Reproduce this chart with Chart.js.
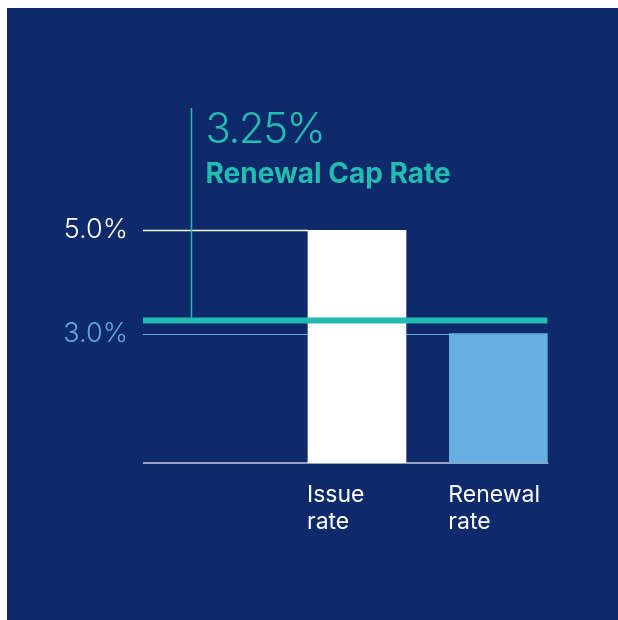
<!DOCTYPE html>
<html>
<head>
<meta charset="utf-8">
<script src="https://cdn.jsdelivr.net/npm/chart.js@4.4.0/dist/chart.umd.min.js"></script>
<style>
  html, body { margin: 0; padding: 0; background: #fff; overflow: hidden; }
  #wrap { position: absolute; left: 7px; top: 8px; width: 611px; height: 612px; background: #0e2a6b; }
  canvas { display: block; }
</style>
</head>
<body>
<div id="wrap"><canvas id="chart" width="611" height="612"></canvas></div>
<script>
// data
const categories = ['Issue rate', 'Renewal rate'];
const values = [5.0, 3.0];
const barColors = ['#ffffff', '#66b0e1'];
const yTicks = [3.0, 5.0];
const tickColors = ['#63a9dd', '#ffffff'];
const capRate = 3.25;
const capLabel = 'Renewal Cap Rate';

const teal = '#22bcb1';

// first slot is an empty spacer category
const labels = [''].concat(categories.map(c => c.split(' ')));
const data = [null].concat(values);
const colors = ['rgba(0,0,0,0)'].concat(barColors);

const decor = {
  id: 'decor',
  beforeDatasetsDraw(chart) {
    const ctx = chart.ctx, area = chart.chartArea;
    const y = chart.scales.y;
    const bars = chart.getDatasetMeta(0).data;
    ctx.save();
    // leader lines from the axis to the top of each bar
    yTicks.forEach((t, i) => {
      const idx = values.indexOf(t);
      if (idx < 0) return;
      const bar = bars[idx + 1];
      const py = Math.round(y.getPixelForValue(t)) + 0.5;
      ctx.strokeStyle = tickColors[i];
      ctx.lineWidth = t === 5 ? 1.5 : 1;
      ctx.beginPath();
      ctx.moveTo(area.left - 2, py);
      ctx.lineTo(bar.x - bar.width / 2, py);
      ctx.stroke();
    });
    // baseline
    const last = bars[bars.length - 1];
    ctx.strokeStyle = '#c9cdd9';
    ctx.lineWidth = 1.5;
    ctx.beginPath();
    ctx.moveTo(area.left - 2, area.bottom);
    ctx.lineTo(last.x + last.width / 2 + 1, area.bottom);
    ctx.stroke();
    ctx.restore();
  },
  afterDatasetsDraw(chart) {
    const ctx = chart.ctx, area = chart.chartArea;
    const y = chart.scales.y;
    const bars = chart.getDatasetMeta(0).data;
    const last = bars[bars.length - 1];
    const cy = y.getPixelForValue(capRate);
    ctx.save();
    // cap rate line
    ctx.strokeStyle = teal;
    ctx.lineWidth = 6;
    ctx.beginPath();
    ctx.moveTo(area.left - 2, cy);
    ctx.lineTo(last.x + last.width / 2, cy);
    ctx.stroke();
    // vertical callout
    const vx = area.left + 46.5;
    ctx.lineWidth = 1.5;
    ctx.beginPath();
    ctx.moveTo(vx, 100);
    ctx.lineTo(vx, cy - 3);
    ctx.stroke();
    // callout text
    ctx.fillStyle = teal;
    ctx.textAlign = 'left';
    ctx.textBaseline = 'alphabetic';
    ctx.letterSpacing = '-1.5px';
    ctx.font = '300 42px Inter, "Open Sans", sans-serif';
    ctx.fillText(capRate.toFixed(2) + '%', vx + 14, 135);
    ctx.letterSpacing = '0px';
    ctx.font = 'bold 28px Inter, "Open Sans", sans-serif';
    ctx.fillText(capLabel, vx + 14, 175);
    ctx.restore();
  }
};

new Chart(document.getElementById('chart'), {
  type: 'bar',
  data: {
    labels: labels,
    datasets: [{
      data: data,
      backgroundColor: colors,
      borderWidth: 0,
      barThickness: 98
    }]
  },
  options: {
    responsive: false,
    animation: false,
    layout: { padding: { top: 222, right: 49, bottom: 70, left: 0 } },
    plugins: { legend: { display: false }, tooltip: { enabled: false } },
    scales: {
      x: {
        offset: true,
        grid: { display: false, drawTicks: false },
        border: { display: false },
        afterFit(scale) { scale.height = 87; },
        ticks: {
          align: 'start',
          labelOffset: -50,
          padding: 19,
          color: '#ffffff',
          font: { family: 'Inter, "Open Sans", sans-serif', size: 23, lineHeight: 1.15 }
        }
      },
      y: {
        min: 0.5,
        max: 5,
        grid: { display: false, drawTicks: false },
        border: { display: false },
        afterFit(scale) { scale.width = 138; },
        afterBuildTicks(scale) { scale.ticks = yTicks.map(v => ({ value: v })); },
        ticks: {
          padding: 17,
          color: ctx => tickColors[yTicks.indexOf(ctx.tick.value)],
          font: { family: 'Inter, "Open Sans", sans-serif', size: 27, weight: '300' },
          callback: v => Number(v).toFixed(1) + '%'
        }
      }
    }
  },
  plugins: [decor]
});
</script>
</body>
</html>
